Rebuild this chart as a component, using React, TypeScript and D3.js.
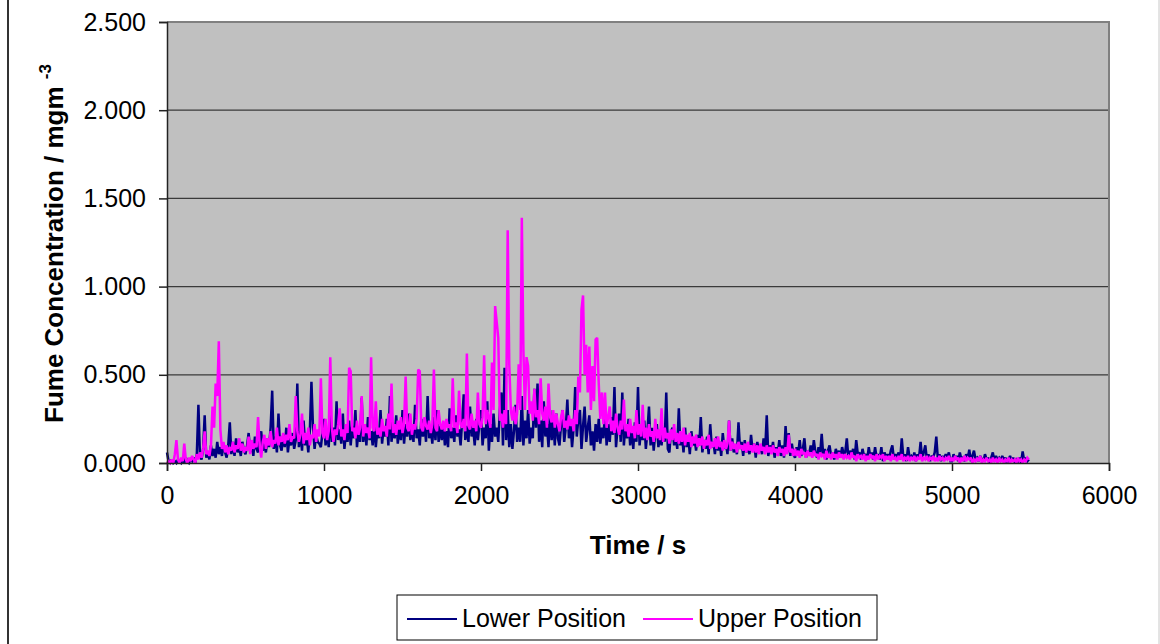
import * as d3 from "d3";
import { useEffect, useRef } from "react";

// sampling step of the readings (s)
const sampleStep = 10;

// Lower position readings, one row per 250 s
const lowerPosition = [
  0.06, 0.01, 0.0, 0.02, 0.0, 0.01, 0.0, 0.02, 0.01, 0.0, 0.02, 0.0, 0.03, 0.01, 0.0, 0.02, 0.01, 0.03, 0.0, 0.05, 0.33, 0.04, 0.02, 0.08, 0.27,
  0.03, 0.06, 0.02, 0.1, 0.04, 0.08, 0.03, 0.12, 0.05, 0.09, 0.04, 0.11, 0.06, 0.03, 0.1, 0.23, 0.05, 0.12, 0.04, 0.14, 0.06, 0.09, 0.04, 0.12, 0.07,
  0.05, 0.1, 0.17, 0.06, 0.12, 0.04, 0.15, 0.08, 0.06, 0.13, 0.18, 0.07, 0.11, 0.06, 0.14, 0.09, 0.2, 0.41, 0.08, 0.15, 0.06, 0.28, 0.1, 0.07, 0.16,
  0.09, 0.2, 0.06, 0.14, 0.1, 0.17, 0.08, 0.13, 0.45, 0.09, 0.18, 0.07, 0.24, 0.1, 0.15, 0.06, 0.19, 0.46, 0.2, 0.08, 0.16, 0.12, 0.11, 0.09, 0.17,
  0.25, 0.1, 0.18, 0.09, 0.3, 0.12, 0.2, 0.1, 0.35, 0.13, 0.19, 0.11, 0.28, 0.08, 0.17, 0.12, 0.24, 0.1, 0.21, 0.14, 0.3, 0.09, 0.19, 0.12, 0.37,
  0.12, 0.22, 0.1, 0.26, 0.13, 0.18, 0.1, 0.22, 0.09, 0.19, 0.14, 0.3, 0.11, 0.2, 0.15, 0.25, 0.1, 0.38, 0.12, 0.21, 0.14, 0.27, 0.11, 0.2, 0.13,
  0.3, 0.11, 0.22, 0.15, 0.28, 0.13, 0.2, 0.12, 0.33, 0.14, 0.19, 0.1, 0.25, 0.15, 0.22, 0.12, 0.38, 0.14, 0.2, 0.11, 0.26, 0.13, 0.3, 0.12, 0.21,
  0.13, 0.22, 0.1, 0.18, 0.09, 0.31, 0.14, 0.2, 0.12, 0.27, 0.15, 0.19, 0.1, 0.24, 0.39, 0.13, 0.21, 0.12, 0.32, 0.15, 0.2, 0.1, 0.25, 0.13, 0.22,
  0.3, 0.1, 0.2, 0.14, 0.35, 0.07, 0.22, 0.12, 0.28, 0.15, 0.2, 0.12, 0.3, 0.4, 0.1, 0.54, 0.13, 0.3, 0.09, 0.22, 0.08, 0.18, 0.33, 0.12, 0.2,
  0.12, 0.38, 0.1, 0.24, 0.14, 0.3, 0.11, 0.2, 0.14, 0.42, 0.2, 0.45, 0.12, 0.24, 0.09, 0.35, 0.15, 0.22, 0.09, 0.3, 0.13, 0.25, 0.1, 0.28, 0.14,
  0.1, 0.22, 0.3, 0.12, 0.2, 0.36, 0.14, 0.23, 0.09, 0.2, 0.43, 0.15, 0.25, 0.3, 0.08, 0.21, 0.32, 0.12, 0.2, 0.27, 0.1, 0.18, 0.07, 0.22, 0.12,
  0.25, 0.11, 0.2, 0.14, 0.3, 0.1, 0.22, 0.12, 0.26, 0.16, 0.43, 0.09, 0.2, 0.28, 0.12, 0.4, 0.1, 0.22, 0.14, 0.25, 0.1, 0.2, 0.08, 0.23, 0.12,
  0.43, 0.1, 0.2, 0.13, 0.24, 0.08, 0.18, 0.32, 0.1, 0.2, 0.07, 0.17, 0.22, 0.09, 0.16, 0.1, 0.2, 0.12, 0.4, 0.08, 0.06, 0.18, 0.2, 0.1, 0.15,
  0.08, 0.31, 0.1, 0.16, 0.06, 0.2, 0.09, 0.15, 0.05, 0.18, 0.1, 0.14, 0.07, 0.16, 0.1, 0.26, 0.06, 0.13, 0.08, 0.15, 0.05, 0.22, 0.09, 0.12, 0.05,
  0.15, 0.07, 0.12, 0.04, 0.17, 0.08, 0.11, 0.05, 0.24, 0.07, 0.14, 0.06, 0.1, 0.05, 0.23, 0.08, 0.12, 0.04, 0.13, 0.06, 0.1, 0.05, 0.16, 0.07, 0.11,
  0.03, 0.12, 0.06, 0.1, 0.05, 0.14, 0.07, 0.27, 0.04, 0.1, 0.06, 0.12, 0.03, 0.09, 0.05, 0.13, 0.04, 0.1, 0.03, 0.21, 0.06, 0.17, 0.04, 0.11, 0.05,
  0.03, 0.09, 0.05, 0.13, 0.04, 0.08, 0.14, 0.03, 0.07, 0.05, 0.1, 0.04, 0.13, 0.06, 0.03, 0.09, 0.05, 0.165, 0.04, 0.08, 0.02, 0.07, 0.1, 0.04, 0.06,
  0.02, 0.08, 0.04, 0.07, 0.03, 0.09, 0.05, 0.06, 0.14, 0.03, 0.07, 0.04, 0.08, 0.02, 0.13, 0.05, 0.06, 0.02, 0.08, 0.04, 0.05, 0.02, 0.09, 0.03, 0.06,
  0.02, 0.09, 0.03, 0.05, 0.02, 0.09, 0.01, 0.06, 0.03, 0.05, 0.02, 0.07, 0.1, 0.02, 0.05, 0.03, 0.06, 0.02, 0.14, 0.03, 0.05, 0.01, 0.09, 0.03, 0.04,
  0.02, 0.06, 0.01, 0.05, 0.03, 0.12, 0.02, 0.06, 0.1, 0.02, 0.05, 0.01, 0.04, 0.03, 0.06, 0.15, 0.02, 0.05, 0.01, 0.04, 0.02, 0.05, 0.03, 0.06, 0.01,
  0.01, 0.05, 0.02, 0.04, 0.01, 0.06, 0.02, 0.03, 0.01, 0.05, 0.02, 0.075, 0.01, 0.04, 0.07, 0.02, 0.03, 0.01, 0.04, 0.02, 0.01, 0.05, 0.02, 0.03, 0.0,
  0.03, 0.06, 0.01, 0.04, 0.02, 0.03, 0.01, 0.04, 0.02, 0.03, 0.0, 0.02, 0.04, 0.01, 0.03, 0.0, 0.02, 0.01, 0.03, 0.0, 0.065, 0.01, 0.03, 0.01, 0.02,
];

// Upper position readings, one row per 250 s
const upperPosition = [
  0.0, 0.01, 0.0, 0.02, 0.0, 0.05, 0.13, 0.02, 0.0, 0.03, 0.01, 0.11, 0.02, 0.0, 0.03, 0.01, 0.04, 0.02, 0.0, 0.05, 0.02, 0.06, 0.03, 0.08, 0.18,
  0.05, 0.07, 0.04, 0.1, 0.32, 0.2, 0.45, 0.38, 0.69, 0.19, 0.08, 0.12, 0.06, 0.1, 0.05, 0.09, 0.07, 0.12, 0.06, 0.1, 0.08, 0.14, 0.07, 0.11, 0.06,
  0.09, 0.07, 0.15, 0.05, 0.13, 0.08, 0.11, 0.09, 0.26, 0.1, 0.03, 0.12, 0.16, 0.08, 0.14, 0.1, 0.18, 0.09, 0.13, 0.11, 0.2, 0.1, 0.15, 0.12, 0.17,
  0.11, 0.16, 0.13, 0.22, 0.12, 0.15, 0.14, 0.38, 0.18, 0.12, 0.16, 0.28, 0.11, 0.17, 0.13, 0.2, 0.1, 0.16, 0.14, 0.22, 0.12, 0.19, 0.15, 0.48, 0.17,
  0.14, 0.25, 0.13, 0.18, 0.6, 0.2, 0.12, 0.19, 0.16, 0.22, 0.31, 0.15, 0.19, 0.13, 0.22, 0.17, 0.54, 0.52, 0.18, 0.2, 0.14, 0.24, 0.16, 0.2, 0.38,
  0.15, 0.22, 0.17, 0.2, 0.14, 0.6, 0.2, 0.18, 0.35, 0.16, 0.2, 0.15, 0.25, 0.18, 0.21, 0.15, 0.28, 0.19, 0.45, 0.17, 0.22, 0.16, 0.24, 0.19, 0.26,
  0.17, 0.22, 0.49, 0.2, 0.18, 0.28, 0.16, 0.22, 0.19, 0.25, 0.53, 0.52, 0.2, 0.18, 0.26, 0.21, 0.19, 0.24, 0.17, 0.22, 0.53, 0.2, 0.18, 0.3, 0.22,
  0.19, 0.24, 0.18, 0.25, 0.2, 0.22, 0.18, 0.48, 0.2, 0.23, 0.17, 0.41, 0.22, 0.2, 0.25, 0.18, 0.62, 0.21, 0.19, 0.28, 0.2, 0.24, 0.18, 0.4, 0.22,
  0.2, 0.26, 0.61, 0.22, 0.3, 0.25, 0.2, 0.57, 0.3, 0.89, 0.8, 0.71, 0.24, 0.28, 0.2, 0.3, 0.22, 1.32, 0.56, 0.3, 0.24, 0.32, 0.22, 0.28, 0.56,
  0.3, 1.39, 0.64, 0.3, 0.6, 0.55, 0.28, 0.35, 0.24, 0.42, 0.26, 0.3, 0.22, 0.48, 0.28, 0.24, 0.32, 0.2, 0.45, 0.26, 0.23, 0.3, 0.2, 0.28, 0.22,
  0.18, 0.26, 0.3, 0.2, 0.24, 0.19, 0.27, 0.21, 0.25, 0.18, 0.3, 0.22, 0.49, 0.4, 0.87, 0.95, 0.5, 0.67, 0.4, 0.66, 0.3, 0.55, 0.35, 0.7, 0.71,
  0.45, 0.25, 0.4, 0.22, 0.4, 0.2, 0.26, 0.32, 0.18, 0.24, 0.17, 0.28, 0.2, 0.16, 0.24, 0.19, 0.36, 0.18, 0.22, 0.15, 0.25, 0.17, 0.21, 0.14, 0.3,
  0.16, 0.22, 0.15, 0.33, 0.14, 0.2, 0.13, 0.22, 0.15, 0.18, 0.12, 0.25, 0.14, 0.19, 0.13, 0.31, 0.12, 0.2, 0.14, 0.17, 0.11, 0.19, 0.13, 0.22, 0.12,
  0.17, 0.11, 0.18, 0.12, 0.2, 0.1, 0.16, 0.12, 0.17, 0.09, 0.15, 0.11, 0.16, 0.09, 0.14, 0.1, 0.15, 0.08, 0.13, 0.1, 0.16, 0.08, 0.12, 0.09, 0.14,
  0.08, 0.15, 0.09, 0.12, 0.07, 0.13, 0.08, 0.11, 0.24, 0.07, 0.12, 0.08, 0.11, 0.06, 0.12, 0.08, 0.1, 0.07, 0.11, 0.06, 0.12, 0.07, 0.1, 0.06, 0.11,
  0.06, 0.1, 0.05, 0.11, 0.07, 0.09, 0.05, 0.1, 0.06, 0.09, 0.05, 0.1, 0.06, 0.08, 0.04, 0.09, 0.06, 0.08, 0.04, 0.09, 0.05, 0.16, 0.06, 0.08, 0.04,
  0.08, 0.04, 0.07, 0.03, 0.08, 0.05, 0.06, 0.03, 0.07, 0.04, 0.06, 0.03, 0.07, 0.04, 0.05, 0.02, 0.06, 0.04, 0.05, 0.02, 0.07, 0.03, 0.05, 0.02, 0.06,
  0.03, 0.05, 0.02, 0.06, 0.03, 0.05, 0.02, 0.05, 0.03, 0.04, 0.02, 0.06, 0.03, 0.04, 0.01, 0.05, 0.03, 0.04, 0.02, 0.05, 0.01, 0.04, 0.02, 0.05, 0.03,
  0.04, 0.01, 0.05, 0.02, 0.04, 0.03, 0.05, 0.01, 0.04, 0.02, 0.04, 0.01, 0.05, 0.02, 0.03, 0.01, 0.04, 0.02, 0.05, 0.01, 0.03, 0.02, 0.04, 0.01, 0.03,
  0.02, 0.04, 0.01, 0.03, 0.02, 0.05, 0.01, 0.03, 0.02, 0.04, 0.01, 0.03, 0.02, 0.04, 0.01, 0.03, 0.01, 0.04, 0.02, 0.03, 0.01, 0.03, 0.02, 0.04, 0.01,
  0.03, 0.01, 0.04, 0.02, 0.03, 0.0, 0.03, 0.01, 0.04, 0.01, 0.03, 0.02, 0.03, 0.0, 0.02, 0.01, 0.03, 0.01, 0.04, 0.0, 0.02, 0.01, 0.03, 0.01, 0.02,
  0.0, 0.03, 0.01, 0.02, 0.0, 0.03, 0.01, 0.02, 0.0, 0.02, 0.01, 0.03, 0.0, 0.02, 0.01, 0.02, 0.0, 0.03, 0.01, 0.02, 0.0, 0.02, 0.01, 0.03, 0.02,
];

const xTicks = [0, 1000, 2000, 3000, 4000, 5000, 6000];
const yTicks = [0, 0.5, 1.0, 1.5, 2.0, 2.5];

const seriesNames = ["Lower Position", "Upper Position"];
const seriesColors = ["#000080", "#ff00ff"];

const width = 1160;
const height = 644;

export default function App() {
  const svgRef = useRef<SVGSVGElement>(null);

  useEffect(() => {
    if (!svgRef.current) return;
    const svg = d3.select(svgRef.current);
    svg.selectAll("*").remove();

    const plot = { left: 167, top: 22, right: 1109, bottom: 463 };
    const font = "'Liberation Sans', Arial, sans-serif";

    const x = d3.scaleLinear().domain([0, 6000]).range([plot.left, plot.right]);
    const y = d3.scaleLinear().domain([0, 2.5]).range([plot.bottom, plot.top]);

    // outer chart frame
    svg.append("line").attr("x1", 8).attr("x2", 8).attr("y1", 0).attr("y2", height)
      .attr("stroke", "#333").attr("stroke-width", 2);
    svg.append("line").attr("x1", 1159).attr("x2", 1159).attr("y1", 0).attr("y2", height)
      .attr("stroke", "#c8c8c8").attr("stroke-width", 1);

    // plot area
    svg.append("rect")
      .attr("x", plot.left).attr("y", plot.top)
      .attr("width", plot.right - plot.left).attr("height", plot.bottom - plot.top)
      .attr("fill", "#c0c0c0");

    // gridlines
    svg.append("g")
      .selectAll("line")
      .data(yTicks.filter((d) => d > 0 && d < 2.5))
      .enter()
      .append("line")
      .attr("x1", plot.left).attr("x2", plot.right)
      .attr("y1", (d) => y(d)).attr("y2", (d) => y(d))
      .attr("stroke", "#3a3a3a").attr("stroke-width", 1.2);

    // gray border top/right
    svg.append("path")
      .attr("d", `M${plot.left},${plot.top}H${plot.right}V${plot.bottom}`)
      .attr("fill", "none").attr("stroke", "#808080").attr("stroke-width", 2);

    // series
    const line = d3.line<number>()
      .x((_, i) => x(i * sampleStep))
      .y((d) => y(d));

    [lowerPosition, upperPosition].forEach((values, k) => {
      svg.append("path")
        .datum(values)
        .attr("d", line)
        .attr("fill", "none")
        .attr("stroke", seriesColors[k])
        .attr("stroke-width", 2.5)
        .attr("stroke-linejoin", "miter")
        .attr("stroke-miterlimit", 2);
    });

    // axes
    const yAxis = d3.axisLeft(y).tickValues(yTicks).tickFormat(d3.format(".3f")).tickSize(8).tickPadding(13);
    const yg = svg.append("g").attr("transform", `translate(${plot.left},0)`).call(yAxis);
    yg.selectAll("text").style("font-family", font).style("font-size", "25px").attr("fill", "#000");

    const xAxis = d3.axisBottom(x).tickValues(xTicks).tickFormat(d3.format("d")).tickSize(8).tickPadding(10);
    const xg = svg.append("g").attr("transform", `translate(0,${plot.bottom})`).call(xAxis);
    xg.selectAll("text").style("font-family", font).style("font-size", "25px").attr("fill", "#000")
      .attr("dy", "0.9em");

    svg.selectAll(".domain, .tick line").attr("stroke", "#222").attr("stroke-width", 1.5);

    // axis titles
    svg.append("text")
      .attr("x", (plot.left + plot.right) / 2)
      .attr("y", 554)
      .attr("text-anchor", "middle")
      .style("font-family", font)
      .style("font-size", "26px")
      .style("font-weight", "bold")
      .text("Time / s");

    const yTitle = svg.append("text")
      .attr("transform", "rotate(-90)")
      .attr("x", -423)
      .attr("y", 63)
      .style("font-family", font)
      .style("font-size", "26px")
      .style("font-weight", "bold")
      .text("Fume Concentration / mgm ");
    yTitle.append("tspan")
      .attr("dy", -12)
      .style("font-size", "17px")
      .text("-3");

    // legend
    const legend = svg.append("g").attr("transform", "translate(397,595)");
    legend.append("rect")
      .attr("width", 480).attr("height", 45)
      .attr("fill", "#fff").attr("stroke", "#000").attr("stroke-width", 1);
    const legendX = [10, 246];
    seriesNames.forEach((name, k) => {
      legend.append("line")
        .attr("x1", legendX[k]).attr("x2", legendX[k] + 50)
        .attr("y1", 24).attr("y2", 24)
        .attr("stroke", seriesColors[k]).attr("stroke-width", 2);
      legend.append("text")
        .attr("x", legendX[k] + 55)
        .attr("y", 32)
        .style("font-family", font)
        .style("font-size", "25px")
        .text(name);
    });
  }, []);

  return (
    <svg
      ref={svgRef}
      width={width}
      height={height}
      style={{ position: "absolute", left: 0, top: 0, background: "#fff" }}
    />
  );
}
